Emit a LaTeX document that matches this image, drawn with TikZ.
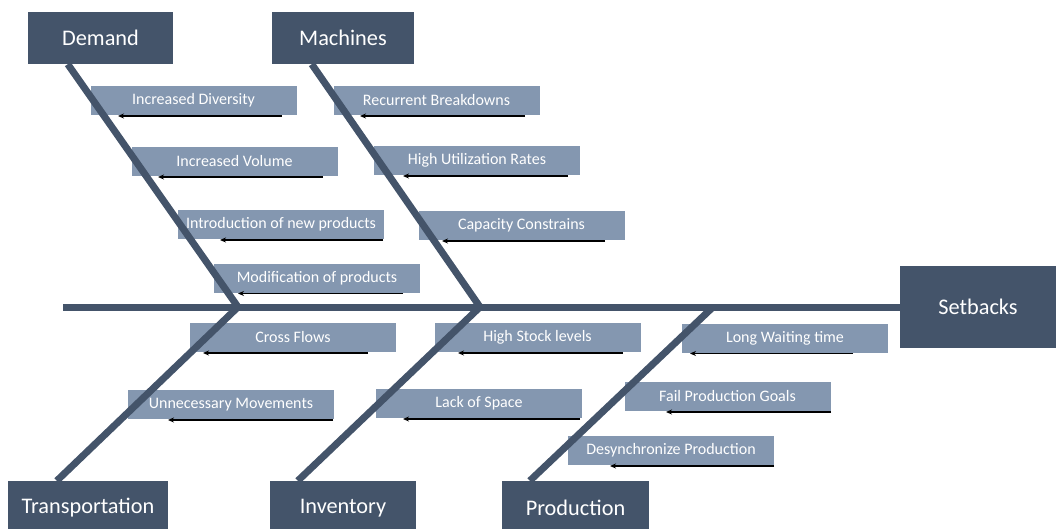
\documentclass[tikz,border=0pt]{standalone}
\usepackage{fontspec}
\setmainfont{Carlito}
\usetikzlibrary{arrows.meta,calc}
\definecolor{slate}{HTML}{44546A}
\definecolor{steel}{HTML}{8497B0}
\begin{document}
\begin{tikzpicture}[x=1pt,y=-1pt,
  head/.style={fill=slate,text=white,font=\fontsize{22.3}{26}\selectfont,inner sep=0},
  cause/.style={fill=steel,text=white,font=\fontsize{16}{19}\selectfont,
    minimum width=206pt,minimum height=29pt,inner sep=0},
  bone/.style={draw=slate,line width=7pt},
  pointer/.style={draw=black,line width=1.3pt,-{Stealth[length=6pt,width=5pt]}}]
\useasboundingbox (0,0) rectangle (1056,529);

% category heads
\node[head,minimum width=145pt,minimum height=52pt] (demand) at (100.5,38) {Demand};
\node[head,minimum width=142pt,minimum height=52pt] (machines) at (343,38) {Machines};
\node[head,minimum width=160pt,minimum height=54pt] (transport) at (88,508) {Transportation};
\node[head,minimum width=146pt,minimum height=54pt] (inventory) at (343,508) {Inventory};
\node[head,minimum width=147pt,minimum height=54pt] (production) at (575.5,508) {Production};
\node[head,minimum width=156pt,minimum height=82pt] (setbacks) at (978,307) {Setbacks};

% causes with their pointers
\foreach \n/\x/\y/\t/\a/\b in {
  c1/193.5/100.5/Increased Diversity/282/118,
  c2/234.5/161.5/Increased Volume/323/158,
  c3/281/224.5/Introduction of new products/383/220,
  c4/317/278/Modification of products/403/238,
  c5/436.5/100.5/Recurrent Breakdowns/525/360,
  c6/477/160.5/High Utilization Rates/568/403,
  c7/521.5/225.5/Capacity Constrains/605/442,
  c8/293/337.5/Cross Flows/368/203,
  c9/231/404.5/Unnecessary Movements/333/168,
  c10/537.5/337.5/High Stock levels/623/458,
  c11/479/403.5/Lack of Space/580/403,
  c12/785/338/Long Waiting time/853/690,
  c13/727.5/396.5/Fail Production Goals/831/666,
  c14/671/450.5/Desynchronize Production/774/610} {
  \node[cause] (\n) at (\x,\y) {\t};
  \coordinate (\n-from) at (\a,\y+15.5);
  \coordinate (\n-to) at (\b,\y+15.5);
}

% spine and bones
\coordinate (tail) at (63,307);
\coordinate (j1) at (238,307);
\coordinate (j2) at (480,307);
\coordinate (j3) at (713,307);
\draw[bone] (tail) -- (setbacks.west);
\draw[bone] ($(demand.south west)+(40,0)$) -- (j1);
\draw[bone] ($(machines.south west)+(40,0)$) -- (j2);
\draw[bone] ($(transport.north west)+(49,0)$) -- (j1);
\draw[bone] ($(inventory.north west)+(28,0)$) -- (j2);
\draw[bone] ($(production.north west)+(28,0)$) -- (j3);

\foreach \n in {c1,c2,c3,c4,c5,c6,c7,c8,c9,c10,c11,c12,c13,c14}
  \draw[pointer] (\n-from) -- (\n-to);
\end{tikzpicture}
\end{document}
